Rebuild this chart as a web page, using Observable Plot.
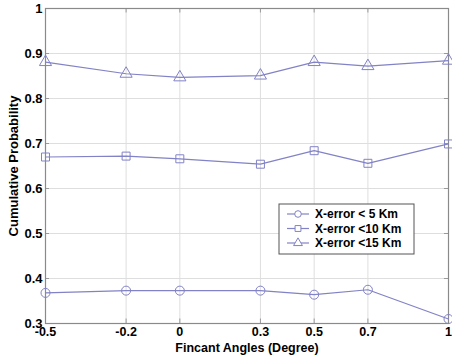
<!DOCTYPE html>
<html><head><meta charset="utf-8">
<script src="https://cdn.jsdelivr.net/npm/d3@7"></script>
<script src="https://cdn.jsdelivr.net/npm/@observablehq/plot@0.6"></script>
<style>body{margin:0;background:#fff}</style>
</head><body><div id="chart"></div>
<script>
const angles = [-0.5, -0.2, 0, 0.3, 0.5, 0.7, 1];
const xTickLabels = ["-0.5", "-0.2", "0", "0.3", "0.5", "0.7", "1"];
const yTicks = [0.3, 0.4, 0.5, 0.6, 0.7, 0.8, 0.9, 1];
const yTickLabels = ["0.3", "0.4", "0.5", "0.6", "0.7", "0.8", "0.9", "1"];
const seriesNames = ["X-error < 5 Km", "X-error <10 Km", "X-error <15 Km"];
const err5 = [0.368, 0.373, 0.373, 0.373, 0.364, 0.375, 0.310];
const err10 = [0.670, 0.672, 0.666, 0.654, 0.684, 0.656, 0.699];
const err15 = [0.881, 0.855, 0.847, 0.851, 0.881, 0.872, 0.884];
const symbolNames = ["circle", "square", "triangle"];

const seriesValues = [err5, err10, err15];
const rows = [];
seriesValues.forEach((vals, i) => vals.forEach((v, j) => rows.push({x: angles[j], y: v, s: seriesNames[i]})));

const lineColor = "#8282c6";
const tickColor = "#999";
const font = "'Liberation Sans', Arial, Helvetica, sans-serif";

const chart = Plot.plot({
  width: 452,
  height: 356,
  marginTop: 8,
  marginBottom: 33,
  marginLeft: 45,
  marginRight: 4,
  style: {fontFamily: font, fontWeight: "bold", fontSize: "12px", color: "#000", background: "#fff"},
  x: {domain: [-0.5, 1]},
  y: {domain: [0.3, 1]},
  symbol: {domain: seriesNames, range: symbolNames},
  marks: [
    Plot.gridX(angles, {stroke: "#dedede", strokeOpacity: 1}),
    Plot.gridY(yTicks, {stroke: "#dedede", strokeOpacity: 1}),
    Plot.axisX(angles, {anchor: "bottom", tickSize: 0, tickPadding: 4, fontSize: 12.5,
      tickFormat: (d) => xTickLabels[angles.indexOf(d)],
      label: "Fincant Angles (Degree)", labelAnchor: "center", labelArrow: "none", labelOffset: 28}),
    Plot.axisY(yTicks, {anchor: "left", tickSize: 0, tickPadding: 3, fontSize: 13,
      tickFormat: (d) => yTickLabels[yTicks.indexOf(d)],
      label: "Cumulative Probability", labelAnchor: "center", labelArrow: "none", labelOffset: 37}),
    Plot.ruleX(angles, {y1: 0.3, y2: 0.31, stroke: tickColor}),
    Plot.ruleX(angles, {y1: 0.99, y2: 1, stroke: tickColor}),
    Plot.ruleY(yTicks, {x1: -0.5, x2: -0.485, stroke: tickColor}),
    Plot.ruleY(yTicks, {x1: 0.985, x2: 1, stroke: tickColor}),
    Plot.frame({stroke: "#8a8a8a", strokeWidth: 1.2}),
    Plot.line(rows, {x: "x", y: "y", z: "s", stroke: lineColor, strokeWidth: 1.2}),
    Plot.dot(rows, {x: "x", y: "y", symbol: "s", stroke: lineColor, fill: "none", r: 4.5, strokeWidth: 1})
  ]
});

document.getElementById("chart").appendChild(chart);

// legend inside plot area
const svg = d3.select(chart);
const lg = svg.append("g").attr("font-family", font).attr("font-weight", "bold").attr("font-size", 12)
  .attr("text-anchor", "start");
lg.append("rect").attr("x", 279).attr("y", 204).attr("width", 135).attr("height", 50)
  .attr("fill", "#fff").attr("stroke", "#555").attr("stroke-width", 1);
const sym = [d3.symbolCircle, d3.symbolSquare, d3.symbolTriangle];
seriesNames.forEach((name, i) => {
  const yy = 214 + i * 14.5;
  lg.append("line").attr("x1", 287).attr("x2", 309).attr("y1", yy).attr("y2", yy)
    .attr("stroke", lineColor).attr("stroke-width", 1.2);
  lg.append("path").attr("transform", `translate(298,${yy})`)
    .attr("d", d3.symbol(sym[i], Math.PI * 3.3 * 3.3)())
    .attr("fill", "#fff").attr("stroke", lineColor);
  lg.append("text").attr("x", 315).attr("y", yy).attr("dy", "0.35em")
    .attr("text-anchor", "start").text(name);
});
</script>
</body></html>
